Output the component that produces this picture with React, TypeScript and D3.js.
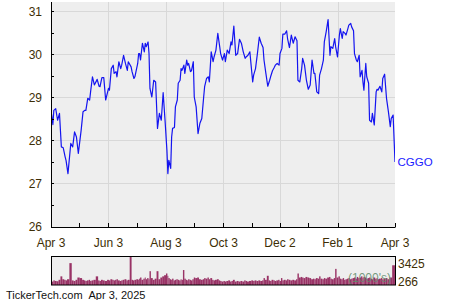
import React from "react";
import * as d3 from "d3";

const START_DATE = "2024-04-03";
const END_DATE = "2025-04-03";
const TICKER = "CGGO";

// days since START_DATE for each observation
const dayOffsets = [0,2,3,5,7,9,11,13,15,16,18,21,23,25,27,29,32,34,36,37,39,41,42,44,46,49,51,52,54,56,58,61,62,64,66,67,69,70,72,74,75,77,79,81,82,85,86,88,89,92,93,94,95,97,99,100,101,103,104,105,107,109,111,113,115,117,119,121,123,124,125,127,128,129,131,132,134,135,137,138,139,141,142,144,145,146,148,149,151,152,154,156,158,160,162,163,165,167,168,170,172,173,175,177,179,180,182,184,185,187,189,191,192,194,196,198,200,202,204,206,207,209,211,214,215,217,219,221,223,225,226,228,230,232,233,235,237,238,240,242,243,245,246,248,250,251,253,255,257,259,261,262,264,266,267,269,271,273,275,277,279,280,282,284,285,287,289,290,292,294,296,297,299,301,302,304,306,307,309,310,312,313,315,316,318,319,321,322,324,325,327,328,330,331,332,334,335,337,338,340,341,343,345,346,347,349,351,352,354,356,358,360,361,363,365];

const prices = [28.70,28.37,28.70,28.74,28.47,28.63,27.85,27.83,27.62,27.53,27.23,27.93,27.85,28.20,28.08,27.70,28.24,28.67,28.70,28.70,28.98,28.94,29.13,29.48,29.29,29.42,29.26,29.25,29.46,29.46,28.94,29.21,29.17,29.67,29.75,29.56,29.60,29.48,29.83,29.67,29.75,29.98,29.79,29.63,29.83,29.71,29.60,29.44,29.48,29.79,30.02,30.02,29.87,30.26,30.06,30.26,30.18,30.29,30.02,29.21,29.01,29.40,29.36,28.28,28.63,28.47,29.11,28.47,27.77,27.23,27.54,27.35,28.08,28.28,28.30,28.78,28.94,29.33,29.40,29.67,29.63,29.75,29.56,29.87,29.75,29.79,29.60,29.62,29.83,29.01,28.78,28.16,28.40,28.51,29.01,29.25,29.44,29.48,29.36,30.06,29.83,29.94,30.10,30.49,30.18,30.02,29.87,30.02,29.83,30.10,30.02,30.29,30.22,30.66,29.98,30.02,30.35,30.26,30.06,29.91,29.94,29.98,30.06,29.36,29.52,29.67,30.02,30.40,30.26,30.16,29.87,29.56,29.26,29.40,29.48,29.62,29.70,29.75,29.79,29.75,30.02,30.14,30.47,30.47,30.55,30.37,30.16,30.45,30.26,30.41,30.32,29.40,29.36,29.67,29.91,29.75,29.40,29.19,29.29,29.87,29.56,29.56,29.13,29.09,29.52,29.67,29.87,30.29,30.53,30.81,29.98,30.18,30.14,30.37,30.18,29.94,30.45,30.60,30.37,30.53,30.49,30.45,30.60,30.68,30.72,30.64,30.55,30.02,29.87,29.83,29.98,29.48,29.63,29.36,29.17,29.79,29.48,29.33,28.47,28.43,28.63,28.36,29.13,29.19,29.17,29.26,29.13,29.44,29.54,28.98,28.67,28.32,28.51,28.59,27.50];

// volume in thousands of shares
const volumes = [700,600,800,700,650,900,1500,1000,900,800,1000,3800,800,700,900,1300,1200,900,800,700,800,900,700,800,900,1500,800,700,900,800,700,900,800,1000,900,800,900,1000,800,700,800,900,1000,800,900,5500,900,800,900,1000,900,1100,1300,900,1100,1300,1000,1200,1000,2400,1200,900,1100,2400,1000,1300,1500,1700,2000,1600,1200,1000,900,1100,800,900,1000,900,800,1000,900,2600,1100,900,800,1000,900,800,1000,1300,1200,1300,1000,900,1000,1200,1100,1300,1000,1200,900,800,900,1000,800,700,600,700,600,700,800,600,700,900,600,700,600,700,600,800,700,600,700,800,700,800,700,800,700,800,1200,900,1600,800,700,900,800,700,800,900,700,1200,800,900,800,1000,900,800,900,800,1000,2000,1300,1400,1300,1200,1400,1300,1200,1000,1100,1000,1200,1100,1500,1100,1000,1200,1100,1300,1400,1100,1000,1200,2800,1300,1500,1100,1000,1200,900,1000,1100,1200,1000,1100,1200,1300,1100,1400,1200,1300,1500,1200,1400,1300,1100,1200,1300,1100,1000,1300,1100,1200,1000,1100,1200,1000,1100,1200,1000,1300,1300,3425,3425];

const yTickValues = [26, 27, 28, 29, 30, 31];
const yMinorValues = [26.5, 27.5, 28.5, 29.5, 30.5];
const xTickDates = ["2024-04-03","2024-06-03","2024-08-03","2024-10-03","2024-12-02","2025-02-01","2025-04-03"];
const xTickLabels = ["Apr 3","Jun 3","Aug 3","Oct 3","Dec 2","Feb 1","Apr 3"];
const xMinorDates = ["2024-05-03","2024-07-03","2024-09-02","2024-11-02","2025-01-01","2025-03-03"];
const volLabelValues = [3425, 266];
const FOOTER_SITE = "TickerTech.com";
const FOOTER_DATE = "Apr 3, 2025";
const VOL_UNITS = "(1000's)";

const FONT = "Arial, 'Liberation Sans', Helvetica, sans-serif";
const TXT = "#3d2e05";

export default function App() {
  const parse = d3.timeParse("%Y-%m-%d");
  const start = parse(START_DATE) as Date;
  const end = parse(END_DATE) as Date;

  const L = 51, R = 395, T = 2, B = 227;
  const VT = 256.5, VB = 285;

  const x = d3.scaleTime().domain([start, end]).range([L, R]);
  const y = d3.scaleLinear().domain([26, 31]).range([226.5, 11.4]);
  const yv = d3.scaleLinear().domain([0, 4950]).range([VB, VT]);

  const n = Math.min(dayOffsets.length, prices.length);
  const pts = d3.range(n).map((i) => ({
    d: d3.timeDay.offset(start, dayOffsets[i]),
    p: prices[i],
    v: volumes[i] ?? 0,
  }));

  const line = d3
    .line<{ d: Date; p: number }>()
    .x((q) => x(q.d))
    .y((q) => y(q.p));

  const xs = pts.map((q) => x(q.d));
  const bars = pts.map((q, i) => {
    const left = i === 0 ? xs[0] - 0.7 : (xs[i - 1] + xs[i]) / 2;
    const right = i === n - 1 ? xs[i] + 0.7 : (xs[i] + xs[i + 1]) / 2;
    return { x0: left, x1: right, v: q.v };
  });

  const last = pts[n - 1];

  return (
    <svg
      width={450}
      height={300}
      style={{ position: "absolute", left: 0, top: 0, display: "block", background: "#fff" }}
      fontFamily={FONT}
    >
      <defs>
        <clipPath id="plotClip">
          <rect x={L} y={T} width={R - L} height={B - T} />
        </clipPath>
        <clipPath id="volClip">
          <rect x={L} y={VT} width={R - L} height={VB - VT} />
        </clipPath>
      </defs>

      {/* price panel */}
      <rect x={L} y={T} width={R - L} height={B - T} fill="#eeeeee" />
      {yTickValues.slice(1).map((v) => (
        <line key={"gy" + v} x1={L} x2={R} y1={Math.round(y(v)) + 0.5} y2={Math.round(y(v)) + 0.5} stroke="#d8d8d8" strokeWidth={1} />
      ))}
      {xTickDates.slice(1, -1).map((s) => {
        const xx = Math.round(x(parse(s) as Date)) + 0.5;
        return <line key={"gx" + s} x1={xx} x2={xx} y1={T} y2={B} stroke="#d8d8d8" strokeWidth={1} />;
      })}

      <path
        d={line(pts) || ""}
        fill="none"
        stroke="#1414f0"
        strokeWidth={1.2}
        strokeLinejoin="round"
        clipPath="url(#plotClip)"
      />

      {/* axes */}
      <line x1={L + 0.5} x2={L + 0.5} y1={T} y2={B + 0.5} stroke="#000" strokeWidth={1} />
      <line x1={L} x2={R + 0.5} y1={B + 0.5} y2={B + 0.5} stroke="#000" strokeWidth={1} />
      {[...yTickValues, ...yMinorValues].map((v) => (
        <line key={"ty" + v} x1={L} x2={L + 3} y1={Math.round(y(v)) + 0.5} y2={Math.round(y(v)) + 0.5} stroke="#000" />
      ))}
      {[...xTickDates, ...xMinorDates].map((s) => {
        const xx = Math.round(x(parse(s) as Date)) + 0.5;
        return <line key={"tx" + s} x1={xx} x2={xx} y1={B - 4} y2={B} stroke="#000" />;
      })}

      {yTickValues.map((v) => (
        <text key={"ly" + v} x={42} y={y(v) + 4.3} textAnchor="end" fontSize={12} fill={TXT}>
          {v}
        </text>
      ))}
      {xTickDates.map((s, i) => (
        <text key={"lx" + i} x={x(parse(s) as Date)} y={246.6} textAnchor="middle" fontSize={12} fill={TXT}>
          {xTickLabels[i]}
        </text>
      ))}

      <text x={R + 2.5} y={y(last.p) + 4.5} fontSize={11.5} fill="#1a1aff">
        {TICKER}
      </text>

      {/* volume panel */}
      <rect x={L} y={VT} width={R - L} height={VB - VT} fill="#eeeeee" />
      <g clipPath="url(#volClip)">
        {bars.map((b, i) => (
          <rect key={"v" + i} x={b.x0} y={yv(b.v)} width={Math.max(0, b.x1 - b.x0)} height={VB - yv(b.v)} fill="#993366" />
        ))}
      </g>
      <text x={391} y={282.2} textAnchor="end" fontSize={12} fill="#5e8a6a" fillOpacity={0.85}>
        {VOL_UNITS}
      </text>
      <rect x={L + 0.5} y={VT} width={R - L} height={VB - VT} fill="none" stroke="#000" strokeWidth={1} />
      {volLabelValues.map((v) => (
        <text key={"vl" + v} x={398} y={yv(v) + 2.8} fontSize={12} fill={TXT}>
          {v}
        </text>
      ))}

      {/* footer */}
      <text x={6} y={298.5} fontSize={11} fill="#111">
        {FOOTER_SITE}
      </text>
      <text x={88.5} y={298.5} fontSize={11} fill="#111">
        {FOOTER_DATE}
      </text>
    </svg>
  );
}
